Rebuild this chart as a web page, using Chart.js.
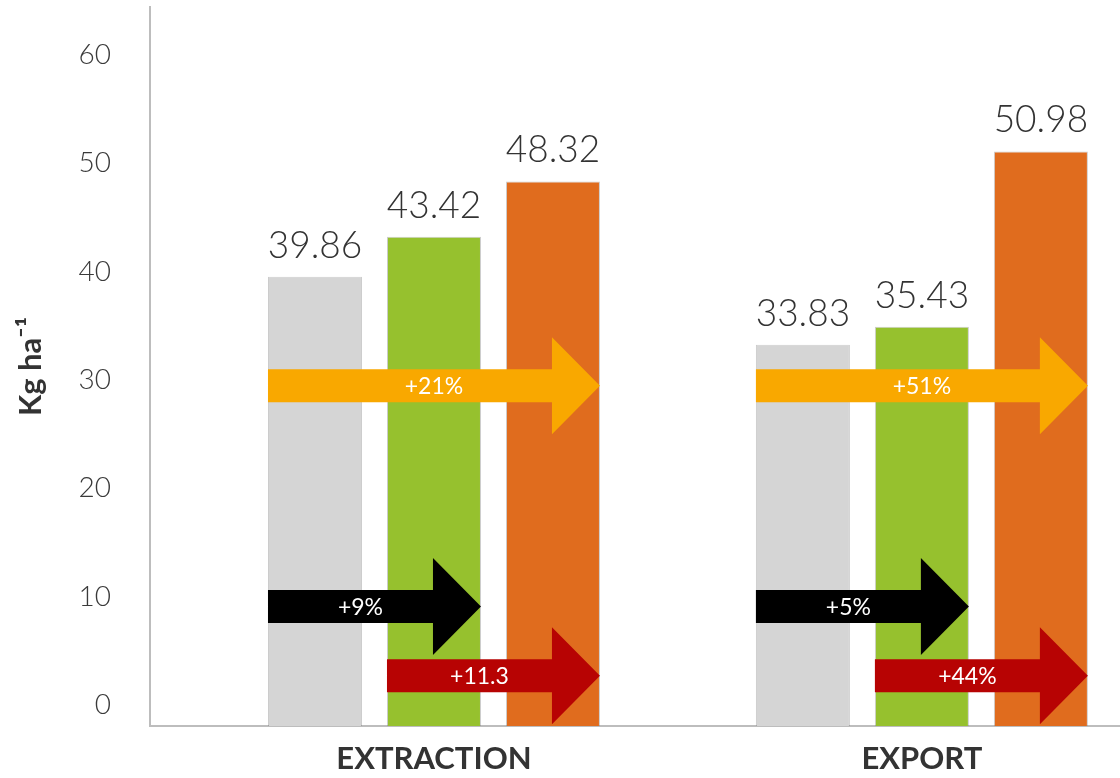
<!DOCTYPE html>
<html>
<head>
<meta charset="utf-8">
<script src="https://cdn.jsdelivr.net/npm/chart.js@4.4.0/dist/chart.umd.min.js"></script>
<style>
    html, body { margin: 0; padding: 0; background: #fff; overflow: hidden; }
    canvas { display: block; }
</style>
</head>
<body>
<canvas id="chart" width="1120" height="778"></canvas>
<script>
'use strict';

// Chart data:
var categories = ['EXTRACTION', 'EXPORT'];
var seriesNames = ['Control', 'Treatment 1', 'Treatment 2'];
var seriesControl = [39.86, 33.83];
var seriesTreat1 = [43.42, 35.43];
var seriesTreat2 = [48.32, 50.98];
var yTicks = [0, 10, 20, 30, 40, 50, 60];

// Increase arrows: labels per category, which bar they start / end on and
// the level (Kg ha-1) they sit at:
var arrowLabels = [['+21%', '+9%', '+11.3'], ['+51%', '+5%', '+44%']];
var arrowFrom = [0, 0, 1];
var arrowTo = [2, 1, 2];
var arrowLevels = [30.2, 10.6, 4.46];

var FONT = 'Lato, "Open Sans", sans-serif';
var barColors = ['#d5d5d5', '#96c12e', '#e06c1e'];
var arrowColors = ['#f9a800', '#000000', '#b70303'];

// Helper to turn one series into {x, y} points on the category index:
var toPoints = function toPoints(values) {
    return values.map(function (v, i) {
        return { x: i, y: v };
    });
};

// Draws the arrows and the value labels on top of the bars:
var overlayPlugin = {
    id: 'overlay',
    afterDatasetsDraw: function (chart) {
        var ctx = chart.ctx;
        var yScale = chart.scales.y;
        var shaft = 33, head = 97, headLen = 48;

        ctx.save();
        categories.forEach(function (cat, g) {
            arrowLevels.forEach(function (level, a) {
                var fromBar = chart.getDatasetMeta(arrowFrom[a]).data[g];
                var toBar = chart.getDatasetMeta(arrowTo[a]).data[g];
                var x0 = fromBar.x - fromBar.width / 2;
                var x1 = toBar.x + toBar.width / 2;
                var xb = x1 - headLen;
                var yc = yScale.getPixelForValue(level);

                ctx.beginPath();
                ctx.moveTo(x0, yc - shaft / 2);
                ctx.lineTo(xb, yc - shaft / 2);
                ctx.lineTo(xb, yc - head / 2);
                ctx.lineTo(x1, yc);
                ctx.lineTo(xb, yc + head / 2);
                ctx.lineTo(xb, yc + shaft / 2);
                ctx.lineTo(x0, yc + shaft / 2);
                ctx.closePath();
                ctx.fillStyle = arrowColors[a];
                ctx.fill();

                // Short arrows have their text a bit to the left:
                var tx = (x0 + x1) / 2 - (arrowTo[a] - arrowFrom[a] === 1 ? 14 : 0);
                ctx.fillStyle = '#ffffff';
                ctx.font = '23px ' + FONT;
                ctx.textAlign = 'center';
                ctx.textBaseline = 'middle';
                ctx.fillText(arrowLabels[g][a], tx, yc + 1);
            });
        });

        // Value labels above the bars:
        ctx.fillStyle = '#333333';
        ctx.font = '300 37px ' + FONT;
        ctx.textAlign = 'center';
        ctx.textBaseline = 'alphabetic';
        chart.data.datasets.forEach(function (ds, d) {
            chart.getDatasetMeta(d).data.forEach(function (bar, i) {
                ctx.fillText(ds.data[i].y.toFixed(2), bar.x, bar.y - 19);
            });
        });
        ctx.restore();
    }
};

var context = document.getElementById('chart').getContext('2d');
var chart = new Chart(context, {
    type: 'bar',
    data: {
        datasets: [seriesControl, seriesTreat1, seriesTreat2].map(function (values, d) {
            return {
                label: seriesNames[d],
                data: toPoints(values),
                backgroundColor: barColors[d],
                borderColor: 'rgba(110, 110, 110, 0.35)',
                borderWidth: 1,
                borderSkipped: 'bottom',
                categoryPercentage: 0.7316,
                barPercentage: 0.79,
                yAxisID: 'y'
            };
        })
    },
    options: {
        responsive: false,
        animation: false,
        layout: { padding: { top: 7, right: 0, bottom: 0, left: 0 } },
        plugins: {
            legend: { display: false },
            tooltip: { enabled: false }
        },
        scales: {
            x: {
                type: 'linear',
                offset: false,
                min: -0.582,
                max: 1.406,
                afterBuildTicks: function (scale) {
                    scale.ticks = categories.map(function (c, i) {
                        return { value: i };
                    });
                },
                afterFit: function (scale) {
                    scale.height = 52;
                    scale.paddingLeft = 0;
                    scale.paddingRight = 0;
                },
                grid: { display: false },
                border: { display: true, color: '#bdbdbd', width: 2 },
                ticks: {
                    padding: 6,
                    maxRotation: 0,
                    color: '#333333',
                    font: { family: FONT, size: 31, weight: 'bold' },
                    callback: function (value) {
                        return categories[value];
                    }
                }
            },
            // Axis that carries the bars:
            y: {
                display: false,
                min: 0,
                max: 63.8
            },
            // Axis that carries the tick labels and the title:
            yt: {
                position: 'left',
                min: -1.94,
                max: 64.43,
                afterBuildTicks: function (scale) {
                    scale.ticks = yTicks.map(function (v) {
                        return { value: v };
                    });
                },
                afterFit: function (scale) {
                    scale.width = 150;
                    scale.paddingTop = 0;
                    scale.paddingBottom = 0;
                },
                grid: { display: false },
                border: { display: true, color: '#bdbdbd', width: 2 },
                ticks: {
                    padding: 31,
                    color: '#3a3a3a',
                    font: { family: FONT, size: 28, weight: '300' }
                },
                title: {
                    display: true,
                    text: 'Kg ha\u207B\u00B9',
                    color: '#333333',
                    padding: { top: 12, bottom: 0 },
                    font: { family: FONT, size: 31, weight: 'bold' }
                }
            }
        }
    },
    plugins: [overlayPlugin]
});
</script>
</body>
</html>
